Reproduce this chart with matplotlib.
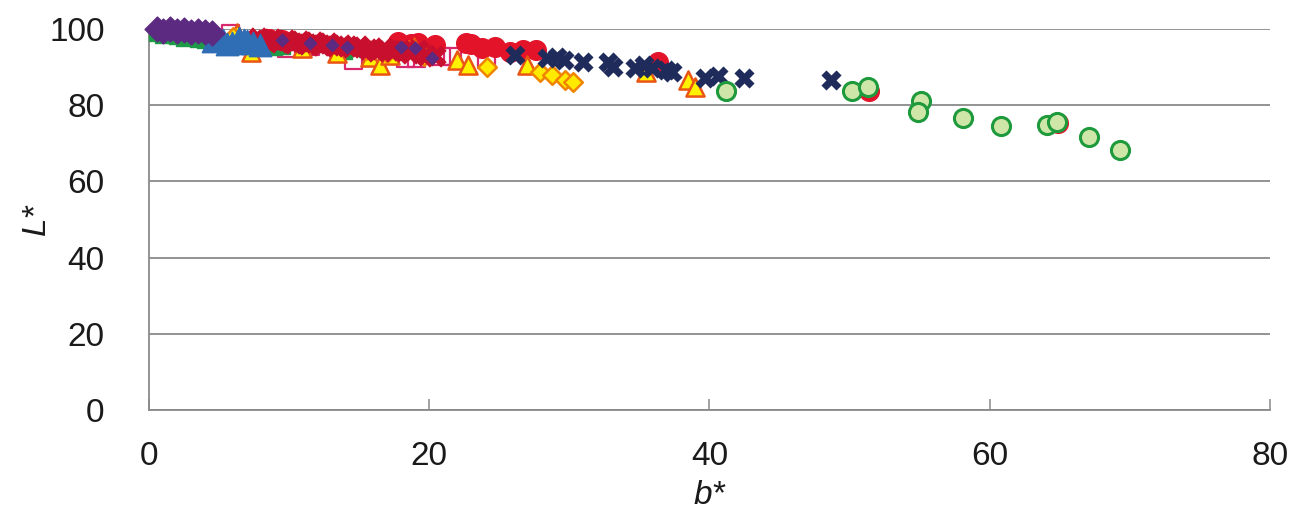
import matplotlib
matplotlib.use("Agg")
import matplotlib.pyplot as plt

plt.rcParams['font.family'] = ['Liberation Sans', 'DejaVu Sans']

# --- data: (b*, L*) pairs per sample group ---
purple_b = [0.6, 1.0, 1.5, 2.0, 2.5, 3.0, 3.5, 4.0, 4.5]
purple_L = [99.9, 99.6, 100.0, 99.5, 99.8, 99.3, 99.6, 99.1, 98.9]

purple_small_b = [9.5, 11.5, 13.1, 14.1, 18.0, 19.0, 20.2]
purple_small_L = [97.1, 96.3, 95.8, 95.4, 95.3, 95.0, 92.4]

green_sq_b = [0.5, 0.9, 1.4, 1.9, 2.4, 2.9, 3.4, 3.9, 4.4, 9.0, 9.6, 14.0, 15.5]
green_sq_L = [98.6, 98.2, 98.4, 97.8, 97.5, 97.6, 97.0, 96.9, 96.6, 95.0, 95.3, 94.0, 94.5]

blue_tri_b = [4.6, 5.3, 5.6, 5.9, 6.4, 6.8, 7.0, 7.4, 7.9]
blue_tri_L = [96.8, 97.0, 96.0, 96.4, 97.6, 97.2, 96.8, 96.2, 95.8]

red_x_b = [7.8, 8.3, 8.8, 9.3, 9.8, 10.3, 10.8, 11.3, 11.8, 12.3, 12.8, 13.3,
           13.8, 14.4, 15.0, 15.6, 16.2, 16.8, 17.4, 18.0, 18.6, 19.2, 19.8, 20.4]
red_x_L = [97.6, 97.0, 97.3, 96.6, 97.0, 96.3, 96.8, 96.0, 96.5, 95.8, 96.2, 95.5,
           95.9, 95.2, 95.6, 94.8, 94.3, 94.9, 94.2, 94.6, 93.8, 94.4, 93.2, 92.8]

red_circ_b = [8.6, 9.5, 17.8, 18.7, 19.2, 20.4, 22.6, 23.0, 23.8, 24.7, 25.8,
              26.7, 27.6, 36.3, 51.4, 64.9]
red_circ_L = [97.5, 97.0, 96.5, 96.0, 96.3, 95.8, 96.2, 96.0, 94.9, 95.4, 94.0,
              94.5, 94.5, 91.4, 83.8, 75.2]

pink_sq_b = [5.8, 8.6, 9.8, 11.5, 14.6, 16.5, 18.3, 19.1, 20.9, 21.7, 24.1]
pink_sq_L = [98.8, 96.8, 95.0, 95.3, 91.8, 93.5, 92.3, 92.3, 92.7, 92.7, 91.9]

yel_tri_b = [6.3, 7.3, 10.9, 13.4, 15.8, 16.5, 17.2, 18.9, 22.0, 22.8, 27.0,
             35.5, 38.5, 39.0]
yel_tri_L = [98.9, 94.0, 94.9, 93.6, 92.7, 90.6, 93.2, 95.3, 91.9, 90.6, 90.6,
             88.8, 86.6, 84.9]

yel_dia_b = [6.0, 15.5, 17.0, 18.5, 19.6, 24.1, 27.9, 28.8, 29.7, 30.3]
yel_dia_L = [98.0, 94.5, 93.8, 94.5, 93.0, 90.1, 88.8, 87.9, 86.6, 86.2]

navy_x_b = [26.1, 28.4, 29.1, 29.6, 31.0, 32.8, 33.1, 34.7, 35.3, 35.9, 36.9,
            37.3, 39.7, 40.6, 42.5, 48.7]
navy_x_L = [93.2, 92.3, 92.7, 91.9, 91.4, 91.4, 90.1, 89.7, 90.6, 89.7, 89.2,
            88.8, 87.2, 87.7, 87.2, 86.6]

lgreen_b = [41.2, 50.2, 51.3, 55.1, 54.9, 58.1, 60.8, 64.1, 64.8, 67.1, 69.3]
lgreen_L = [83.7, 83.8, 84.9, 81.0, 78.3, 76.6, 74.6, 74.9, 75.5, 71.7, 68.3]

x_ticks = [0, 20, 40, 60, 80]
y_ticks = [0, 20, 40, 60, 80, 100]

fig = plt.figure(figsize=(13.01, 5.25), dpi=100)
ax = fig.add_axes([0.1145, 0.219, 0.8615, 0.7258])

common = dict(clip_on=False)
ax.scatter(pink_sq_b, pink_sq_L, marker='s', s=150, facecolor='none',
           edgecolor='#d8286e', linewidth=1.6, zorder=3, **common)
ax.scatter(green_sq_b, green_sq_L, marker='s', s=110, color='#1f9a48', zorder=3, **common)
ax.scatter(red_circ_b, red_circ_L, marker='o', s=200, color='#e3132a', zorder=3, **common)
ax.scatter(yel_tri_b, yel_tri_L, marker='^', s=170, facecolor='#fff200',
           edgecolor='#ea5414', linewidth=1.8, zorder=4, **common)
ax.scatter(yel_dia_b, yel_dia_L, marker='D', s=90, facecolor='#ffea00',
           edgecolor='#f08300', linewidth=1.8, zorder=4, **common)
ax.scatter(red_x_b, red_x_L, marker='X', s=260, color='#c8102e',
           linewidth=0, zorder=5, **common)
ax.scatter(blue_tri_b, blue_tri_L, marker='^', s=260, color='#2f6db5', zorder=5, **common)
ax.scatter(purple_b, purple_L, marker='D', s=160, color='#5c2a80', zorder=6, **common)
ax.scatter(purple_small_b, purple_small_L, marker='D', s=40, color='#5c2a80',
           zorder=6, **common)
ax.scatter(navy_x_b, navy_x_L, marker='X', s=210, color='#1f2b5a',
           linewidth=0, zorder=7, **common)
ax.scatter(lgreen_b, lgreen_L, marker='o', s=170, facecolor='#cfe6a9',
           edgecolor='#1e9a3c', linewidth=2.2, zorder=8, **common)

ax.set_xlim(0, 80)
ax.set_ylim(0, 100)
ax.set_xticks(x_ticks)
ax.set_yticks(y_ticks)
ax.grid(axis='y', color='#8a8a8a', linewidth=1.3)
ax.set_axisbelow(True)

for side in ('top', 'right'):
    ax.spines[side].set_visible(False)
for side in ('left', 'bottom'):
    ax.spines[side].set_color('#8a8a8a')
    ax.spines[side].set_linewidth(1.3)

ax.tick_params(axis='x', direction='in', length=8, width=1.1, color='#8a8a8a',
               labelsize=24, pad=22, labelcolor='#1a1a1a')
ax.tick_params(axis='y', length=0, labelsize=24, pad=32, labelcolor='#1a1a1a')

ax.set_xlabel('b*', fontsize=24, style='italic', color='#1a1a1a', labelpad=6)
ax.set_ylabel('L*', fontsize=24, style='italic', color='#1a1a1a', labelpad=-2)

fig.savefig('out.png', dpi=100)
